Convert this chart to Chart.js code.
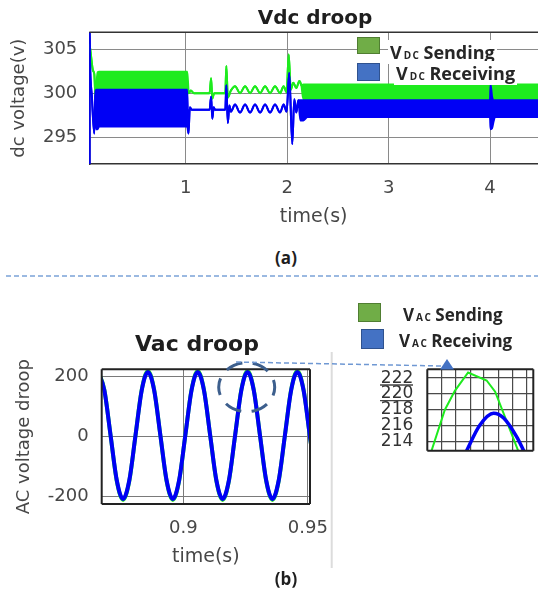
<!DOCTYPE html>
<html>
<head>
<meta charset="utf-8">
<script src="https://cdn.jsdelivr.net/npm/chart.js@4.4.1/dist/chart.umd.min.js"></script>
<style>
  html, body { margin: 0; padding: 0; background: #fff; }
  #fig { position: relative; width: 538px; height: 591px; overflow: hidden; background: #fff; }
  canvas { position: absolute; }
  .t { position: absolute; white-space: nowrap; line-height: 1; color: #1e1e1e; }
  .ttl { font: bold 20px "DejaVu Sans", sans-serif; transform: translate(-50%, -50%); }
  .cap { font: bold 17px "Open Sans", sans-serif; transform: translate(-50%, -50%); }
  .lg { font: bold 18px "Open Sans", sans-serif; background: #fff; padding: 0 2px; color: #262626; }
  .lg2 { font: bold 17px "Open Sans", sans-serif; color: #262626; }
  .sb { font-size: 10px; letter-spacing: 1.5px; margin: 0 3px 0 2px; }
  .box { position: absolute; box-sizing: border-box; }
  .g { background: #70ad47; border: 1px solid #507e32; }
  .b { background: #4472c4; border: 1px solid #2f528f; }
</style>
</head>
<body>
<div id="fig">
  <canvas id="dcChart" width="538" height="232" style="left:0;top:0"></canvas>
  <canvas id="acChart" width="330" height="240" style="left:0;top:340px"></canvas>
  <canvas id="zoomChart" width="198" height="110" style="left:340px;top:355px"></canvas>

  <div class="t ttl" style="left:315px;top:17px">Vdc droop</div>
  <div class="box g" style="left:357px;top:37px;width:23px;height:17px"></div>
  <div class="box b" style="left:357px;top:63px;width:23px;height:18px"></div>
  <div class="t lg" style="left:388px;top:40px">V<span class="sb">DC</span>Sending</div>
  <div class="t lg" style="left:394px;top:61px">V<span class="sb">DC</span>Receiving</div>
  <div class="t cap" style="left:286px;top:257px">(a)</div>

  <div class="t ttl" style="left:197px;top:343px;font-size:22px">Vac droop</div>
  <div class="box g" style="left:358px;top:303px;width:23px;height:19px"></div>
  <div class="box b" style="left:361px;top:329px;width:23px;height:20px"></div>
  <div class="t lg2" style="left:403px;top:303px">V<span class="sb">AC</span>Sending</div>
  <div class="t lg2" style="left:399px;top:329px">V<span class="sb">AC</span>Receiving</div>
  <div class="t cap" style="left:286px;top:578px">(b)</div>

  <svg width="538" height="591" style="position:absolute;left:0;top:0">
    <line x1="6" y1="276" x2="538" y2="276" stroke="#7ba2d8" stroke-width="1.5" stroke-dasharray="5 3"/>
    <line x1="331.7" y1="352" x2="331.7" y2="568" stroke="#dcdcdc" stroke-width="2"/>
    <ellipse cx="246.7" cy="387.2" rx="28" ry="24.5" fill="none" stroke="#3d5f8d" stroke-width="3" stroke-dasharray="17 10.6" stroke-dashoffset="8.5"/>
    <line x1="236" y1="362" x2="441" y2="366" stroke="#6f98d3" stroke-width="1.5" stroke-dasharray="5 3"/>
    <polygon points="447,359 440,369.5 454,369.5" fill="#4472c4"/>
    <line x1="380" y1="385" x2="413" y2="385" stroke="#444" stroke-width="1.3"/>
    <line x1="380" y1="400.7" x2="413" y2="400.7" stroke="#444" stroke-width="1.3"/>
  </svg>
</div>

<script>
// ---- (a) Vdc droop: band traces, upper / lower envelope ----
const dcXTicks = [1, 2, 3, 4];
const dcYTicks = [295, 300, 305];

const sendT  = [0.049, 0.056, 0.085, 0.098, 0.112, 0.125, 0.132, 0.145, 1.015, 1.03, 1.05, 1.08,
                1.235, 1.25, 1.262, 1.28, 1.39, 1.40, 1.415, 1.445, 1.486, 1.535, 1.585, 1.634,
                1.683, 1.733, 1.782, 1.831, 1.88, 1.93, 1.965, 1.995, 2.015, 2.035, 2.06, 2.09,
                2.12, 2.14, 2.16, 4.48];
const sendHi = [305.6, 305.2, 302.6, 302.2, 299.2, 301.8, 302.4, 302.45, 302.45, 300.0, 300.3, 300.0,
                300.0, 301.7, 299.4, 300.0, 300.0, 303.1, 299.5, 300.3, 300.8, 300.0, 300.8, 300.0,
                300.8, 300.0, 300.8, 300.0, 300.8, 300.0, 300.8, 300.1, 304.4, 300.4, 301.2, 300.6,
                301.4, 300.9, 301.0, 301.0];
const sendLo = [305.6, 305.2, 302.6, 302.2, 299.2, 301.8, 300.4, 300.4, 300.4, 300.0, 300.3, 300.0,
                300.0, 301.7, 299.4, 300.0, 300.0, 303.1, 299.5, 300.3, 300.8, 300.0, 300.8, 300.0,
                300.8, 300.0, 300.8, 300.0, 300.8, 300.0, 300.8, 300.1, 304.4, 300.4, 301.2, 300.6,
                301.4, 300.9, 299.3, 299.3];

const recvT  = [0.051, 0.0515, 0.056, 0.075, 0.098, 0.108, 0.115, 0.13, 0.145, 1.015, 1.027, 1.04,
                1.06, 1.235, 1.25, 1.262, 1.275, 1.29, 1.39, 1.40, 1.415, 1.43, 1.445, 1.486,
                1.535, 1.585, 1.634, 1.683, 1.733, 1.782, 1.831, 1.88, 1.93, 1.965, 1.995, 2.02,
                2.05, 2.07, 2.09, 2.11, 2.13, 2.16, 2.2, 4.0, 4.005, 4.02, 4.035, 4.05, 4.48];
const recvHi = [291.0, 307.5, 303.6, 299.5, 295.4, 299.8, 300.4, 300.4, 300.4, 300.4, 295.4, 298.4,
                298.1, 298.1, 299.6, 297.1, 298.4, 298.1, 298.1, 300.9, 296.6, 298.6, 297.9, 298.7,
                297.8, 298.7, 297.8, 298.7, 297.8, 298.7, 297.8, 298.7, 297.8, 298.7, 297.9, 302.3,
                294.2, 299.3, 297.8, 299.2, 299.2, 299.2, 299.2, 299.2, 301.0, 299.6, 299.2, 299.2, 299.2];
const recvLo = [291.0, 307.5, 303.6, 299.5, 295.4, 299.8, 295.9, 295.9, 296.2, 296.2, 295.4, 298.4,
                298.1, 298.1, 299.6, 297.1, 298.4, 298.1, 298.1, 300.9, 296.6, 298.6, 297.9, 298.7,
                297.8, 298.7, 297.8, 298.7, 297.8, 298.7, 297.8, 298.7, 297.8, 298.7, 297.9, 302.3,
                294.2, 299.3, 297.8, 299.2, 296.9, 296.9, 297.3, 297.3, 295.9, 296.0, 296.8, 297.3, 297.3];

// ---- (b) Vac droop ----
const acXTicks = [0.9, 0.95];
const acYTicks = [-200, 0, 200];
const acT    = [0.8658, 0.8683, 0.8708, 0.8733, 0.8758, 0.8783, 0.8808, 0.8833, 0.8858, 0.8883, 0.8908, 0.8933,
                0.8958, 0.8983, 0.9008, 0.9033, 0.9058, 0.9083, 0.9108, 0.9133, 0.9158, 0.9183, 0.9208, 0.9233,
                0.9258, 0.9283, 0.9308, 0.9333, 0.9358, 0.9383, 0.9408, 0.9433, 0.9458, 0.9483, 0.9508, 0.9533];
const acSend = [219, 156, 3, -150, -213, -150, 3, 156, 219, 156, 3, -150,
                -213, -150, 3, 156, 219, 156, 3, -150, -213, -150, 3, 156,
                219, 156, 3, -150, -213, -150, 3, 156, 219, 156, 3, -150];
const acRecv = [216, 154, 3, -148, -210, -148, 3, 154, 216, 154, 3, -148,
                -210, -148, 3, 154, 216, 154, 3, -148, -210, -148, 3, 154,
                216, 154, 3, -148, -210, -148, 3, 154, 216, 154, 3, -148];

// ---- zoomed peak (inset) ----
const zoomYTicks = [214, 216, 218, 220, 222];
const zoomXGrid  = [0.92467, 0.92494, 0.92521, 0.92547, 0.92574, 0.92601, 0.92628];
const zoomSendT  = [0.92447, 0.92473, 0.92492, 0.92517, 0.92552, 0.92568, 0.92612];
const zoomSend   = [212.7, 218.0, 220.4, 222.7, 221.7, 220.3, 212.8];
const zoomRecvT  = [0.92512, 0.92539, 0.92565, 0.92584, 0.92609, 0.92624];
const zoomRecv   = [212.6, 216.1, 217.6, 217.0, 214.6, 212.6];

const GREEN = 'rgb(30,235,30)';
const BLUE = 'rgb(0,0,245)';
const TXT = '#474747';

Chart.defaults.font.family = '"DejaVu Sans", sans-serif';

// fix axis sizes so the plot boxes land where the figure has them
const fixX = h => s => { s.height = h; s.paddingLeft = 0; s.paddingRight = 0; };
const fixY = w => s => { s.width = w; s.paddingTop = 0; s.paddingBottom = 0; };
const setTicks = vals => s => { s.ticks = vals.map(v => ({ value: v })); };

function frame(sides, color, width) {
    return {
        id: 'frame',
        afterDatasetsDraw(chart) {
            const { ctx, chartArea: a } = chart;
            ctx.save();
            ctx.strokeStyle = color;
            ctx.lineWidth = width;
            ctx.beginPath();
            if (sides.includes('t')) { ctx.moveTo(a.left, a.top); ctx.lineTo(a.right, a.top); }
            if (sides.includes('b')) { ctx.moveTo(a.left, a.bottom); ctx.lineTo(a.right, a.bottom); }
            if (sides.includes('l')) { ctx.moveTo(a.left, a.top); ctx.lineTo(a.left, a.bottom); }
            if (sides.includes('r')) { ctx.moveTo(a.right, a.top); ctx.lineTo(a.right, a.bottom); }
            ctx.stroke();
            ctx.restore();
        }
    };
}

function trace(t, v, color, width, extra) {
    return Object.assign({
        data: t.map((x, i) => ({ x, y: v[i] })),
        borderColor: color,
        backgroundColor: color,
        borderWidth: width,
        pointRadius: 0,
        fill: false,
        tension: 0
    }, extra || {});
}

const baseOpts = {
    responsive: false,
    animation: false,
    events: [],
    plugins: { legend: { display: false }, tooltip: { enabled: false } }
};

const tickOpts = (size, color, pad) => ({
    font: { size }, color, padding: pad, autoSkip: false, maxRotation: 0, callback: v => String(v)
});

const smooth = { cubicInterpolationMode: 'monotone' };

// ===== (a) =====
new Chart(document.getElementById('dcChart'), {
    type: 'line',
    data: {
        datasets: [
            trace(recvT, recvHi, BLUE, 2, smooth),
            trace(recvT, recvLo, BLUE, 2, Object.assign({ fill: '-1' }, smooth)),
            trace(sendT, sendHi, GREEN, 2, smooth),
            trace(sendT, sendLo, GREEN, 2, Object.assign({ fill: '-1' }, smooth))
        ]
    },
    options: Object.assign({}, baseOpts, {
        layout: { padding: { top: 32.3, right: 0, left: 0, bottom: 0 } },
        scales: {
            x: {
                type: 'linear', min: 0.049, max: 4.473,
                afterBuildTicks: setTicks(dcXTicks),
                afterFit: fixX(68),
                grid: { color: '#8a8a8a', lineWidth: 1, drawTicks: false },
                border: { color: '#333', width: 1.5 },
                ticks: tickOpts(18, TXT, 14),
                title: { display: true, text: 'time(s)', font: { size: 19 }, color: TXT, padding: { top: 0, bottom: 4 } }
            },
            y: {
                type: 'linear', min: 291.93, max: 306.94,
                afterBuildTicks: setTicks(dcYTicks),
                afterFit: fixY(89.3),
                grid: { color: '#8a8a8a', lineWidth: 1, drawTicks: false },
                border: { color: '#333', width: 1.5 },
                ticks: tickOpts(18, TXT, 12),
                title: { display: true, text: 'dc voltage(v)', font: { size: 18 }, color: TXT, padding: { top: 9, bottom: 0 } }
            }
        }
    }),
    plugins: [frame('t', '#333', 1.5)]
});

// ===== (b) main =====
new Chart(document.getElementById('acChart'), {
    type: 'line',
    data: {
        datasets: [
            trace(acT, acRecv, BLUE, 4, smooth),
            trace(acT, acSend, GREEN, 4, smooth)
        ]
    },
    options: Object.assign({}, baseOpts, {
        layout: { padding: { top: 29.3, right: 20, left: 0, bottom: 0 } },
        scales: {
            x: {
                type: 'linear', min: 0.86723, max: 0.95088,
                afterBuildTicks: setTicks(acXTicks),
                afterFit: fixX(76),
                grid: { color: '#7a7a7a', lineWidth: 1, drawTicks: false },
                border: { display: false },
                ticks: tickOpts(18, TXT, 14),
                title: { display: true, text: 'time(s)', font: { size: 19 }, color: TXT, padding: { top: 0, bottom: 12 } }
            },
            y: {
                type: 'linear', min: -226.8, max: 224.8,
                afterBuildTicks: setTicks(acYTicks),
                afterFit: fixY(101.7),
                grid: { color: '#7a7a7a', lineWidth: 1, drawTicks: false },
                border: { display: false },
                ticks: tickOpts(18, TXT, 13),
                title: { display: true, text: 'AC voltage droop', font: { size: 18 }, color: TXT, padding: { top: 14, bottom: 0 } }
            }
        }
    }),
    plugins: [frame('tblr', '#222', 2)]
});

// ===== (b) inset =====
new Chart(document.getElementById('zoomChart'), {
    type: 'line',
    data: {
        datasets: [
            trace(zoomRecvT, zoomRecv, BLUE, 3.5, smooth),
            trace(zoomSendT, zoomSend, GREEN, 2)
        ]
    },
    options: Object.assign({}, baseOpts, {
        layout: { padding: { top: 14.3, right: 4.7, left: 0, bottom: 0 } },
        scales: {
            x: {
                type: 'linear', min: 0.9244, max: 0.9264,
                afterBuildTicks: setTicks(zoomXGrid),
                afterFit: fixX(14.3),
                grid: { color: '#4a4a4a', lineWidth: 1.2, drawTicks: false },
                border: { display: false },
                ticks: { display: false }
            },
            y: {
                type: 'linear', min: 212.9, max: 223.1,
                afterBuildTicks: setTicks(zoomYTicks),
                afterFit: fixY(87.3),
                grid: { color: '#4a4a4a', lineWidth: 1.2, drawTicks: false },
                border: { display: false },
                ticks: tickOpts(17, '#333', 14)
            }
        }
    }),
    plugins: [frame('tblr', '#222', 2)]
});
</script>
</body>
</html>
